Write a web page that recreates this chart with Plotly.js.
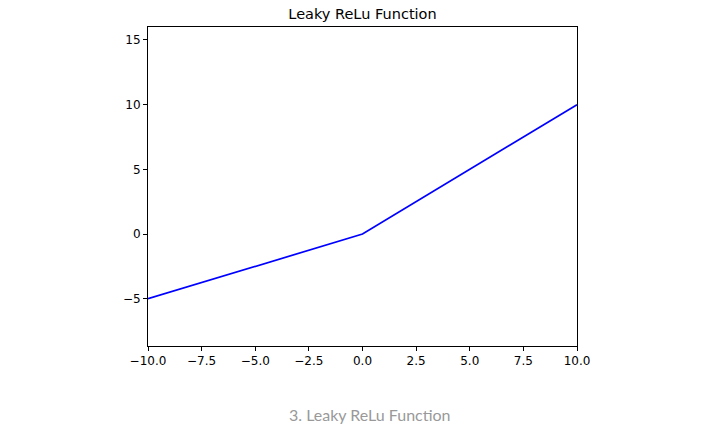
<!DOCTYPE html>
<html>
<head>
<meta charset="utf-8">
<script src="https://cdn.plot.ly/plotly-3.0.1.min.js"></script>
<style>html,body{margin:0;padding:0;background:#fff;}#chart{width:711px;height:428px;}</style>
</head>
<body>
<div id="chart"></div>
<script>
const xValues = [-10, 0, 10];
const yValues = [-5, 0, 10];
const xTickVals = [-10, -7.5, -5, -2.5, 0, 2.5, 5, 7.5, 10];
const xTickText = ["\u221210.0", "\u22127.5", "\u22125.0", "\u22122.5", "0.0", "2.5", "5.0", "7.5", "10.0"];
const yTickVals = [-5, 0, 5, 10, 15];
const yTickText = ["\u22125", "0", "5", "10", "15"];
const titleText = "Leaky ReLu Function";
const captionText = "3. Leaky ReLu Function";

const trace = {
  x: xValues, y: yValues, type: 'scatter', mode: 'lines',
  line: {color: '#0000ff', width: 1.7}, hoverinfo: 'skip'
};
const axisCommon = {
  showline: true, mirror: true, linecolor: '#000', linewidth: 1,
  ticks: 'outside', ticklen: 4, tickwidth: 1, tickcolor: '#000',
  showgrid: false, zeroline: false, tickmode: 'array',
  tickfont: {family: 'DejaVu Sans', size: 12, color: '#000'}
};
const layout = {
  width: 711, height: 428,
  margin: {l: 148, r: 134, t: 27, b: 82, pad: 0},
  paper_bgcolor: '#fff', plot_bgcolor: '#fff',
  showlegend: false,
  title: {text: titleText, font: {family: 'DejaVu Sans', size: 14.5, color: '#000'},
          x: 0.5, xref: 'paper', y: 1 - 14/428, yref: 'container', yanchor: 'middle'},
  xaxis: Object.assign({}, axisCommon, {range: [-10, 10], tickvals: xTickVals, ticktext: xTickText}),
  yaxis: Object.assign({}, axisCommon, {range: [-8.65, 16], tickvals: yTickVals, ticktext: yTickText}),
  annotations: [{
    text: captionText, xref: 'paper', yref: 'paper', x: (370 - 148) / 429, y: (346 - 415) / 319,
    xanchor: 'center', yanchor: 'middle', showarrow: false,
    font: {family: 'Lato', size: 16, color: '#999999'}
  }]
};
Plotly.newPlot('chart', [trace], layout, {displayModeBar: false, staticPlot: true});
</script>
</body>
</html>
